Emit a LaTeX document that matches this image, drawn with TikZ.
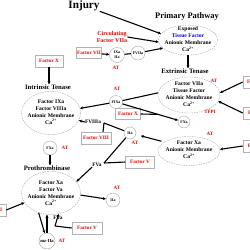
\documentclass[tikz,border=0pt]{standalone}
\usepackage{fontspec}
\setmainfont{Liberation Serif}
\usetikzlibrary{shapes.geometric,arrows.meta,calc}
\begin{document}
\begin{tikzpicture}[x=1pt,y=-1pt,
  every node/.style={font=\bfseries, inner sep=0pt},
  ell/.style={draw=gray!70, dash pattern=on 1.5pt off 1pt, line width=0.4pt, ellipse, inner sep=0pt},
  ring/.style={draw=gray!70, circle, line width=0.4pt, fill=white, inner sep=0pt, align=center, font=\bfseries\fontsize{4}{4.6}\selectfont},
  fbox/.style={draw=gray!60, fill=white, line width=0.5pt, text=red, font=\bfseries\fontsize{5.2}{6}\selectfont, minimum height=11pt},
  lbl/.style={font=\bfseries\fontsize{6.7}{8}\selectfont},
  etext/.style={align=center, font=\bfseries\fontsize{5.6}{7}\selectfont},
  redt/.style={text=red, font=\bfseries\fontsize{5}{6}\selectfont},
  con/.style={line width=1.1pt},
  arr/.style={con, -{Stealth[length=3pt,width=3pt]}},
]
\useasboundingbox (0,0) rectangle (250,250);
\clip (0,0) rectangle (250,250);
\fill[white] (0,0) rectangle (250,250);

% titles
\node[font=\bfseries\fontsize{11.2}{13}\selectfont] (injury) at (84,6) {Injury};
\node[font=\bfseries\fontsize{8.4}{10}\selectfont] (primary) at (187,16) {Primary Pathway};
\node[lbl] (ext) at (185,71) {Extrinsic Tenase};
\node[lbl] (intr) at (48,87) {Intrinsic Tenase};
\node[lbl] (proth) at (47,168) {Prothrombinase};

% ellipses
\node[ell, minimum width=59pt, minimum height=30pt] (e1) at (188,40) {};
\node[etext] at (188,39.5) {Exposed\\\textcolor{blue}{Tissue Factor}\\Anionic Membrane\\Ca\textsuperscript{2+}};
\node[ell, minimum width=62pt, minimum height=36pt] (e2) at (189,95) {};
\node[etext] at (189,94.5) {Factor VIIa\\Tissue Factor\\Anionic Membrane\\Ca\textsuperscript{2+}};
\node[ell, minimum width=62pt, minimum height=29pt] (e3) at (189,151) {};
\node[etext] at (189,150) {Factor Xa\\Anionic Membrane\\Ca\textsuperscript{2+}};
\node[ell, minimum width=59pt, minimum height=43pt] (e4) at (51,113) {};
\node[etext] at (51,112) {Factor IXa\\Factor VIIIa\\Anionic Membrane\\Ca\textsuperscript{2+}};
\node[ell, minimum width=59pt, minimum height=43pt] (e5) at (51,193) {};
\node[etext] at (51,193) {Factor Xa\\Factor Va\\Anionic Membrane\\Ca\textsuperscript{2+}};

% circles
\node[ring, minimum size=15pt] (c1) at (117,55) {IXa\\IIa};
\node[ring, minimum size=14pt] (c2) at (138,53) {FVIIa};
\node[ring, minimum size=13pt] (c3) at (116,102) {FIXa};
\node[ring, minimum size=12pt] (c4) at (130,133) {IIa};
\node[ring, minimum size=12pt] (c5) at (184,122) {FXa};
\node[ring, minimum size=14pt] (c6) at (50,148) {FXa};
\node[ring, minimum size=14pt] (c7) at (113,200) {IIa};
\node[ring, minimum size=16pt, font=\bfseries\fontsize{4.6}{5}\selectfont] (c8) at (47,241) {mz-IIa};

% boxes
\node[fbox, minimum width=25pt] (b1) at (89,53) {Factor VII};
\node[fbox, minimum width=28pt, minimum height=12pt] (b2) at (49,61) {Factor X};
\node[fbox, minimum width=25pt] (b3) at (128,114) {Factor X};
\node[fbox, minimum width=30pt, minimum height=12pt] (b4) at (96,138) {Factor VIII};
\node[fbox, minimum width=29pt, minimum height=12pt] (b5) at (140,162) {Factor V};
\node[fbox, minimum width=30pt, minimum height=12pt] (b6) at (87,228) {Factor V};
\node[fbox, minimum width=28pt, minimum height=12pt] (b7) at (-8,210) {Factor II};
\node[fbox, minimum width=30pt, minimum height=12pt] (r1) at (258,82) {Factor IX};
\node[fbox, minimum width=30pt, minimum height=12pt] (r2) at (258,113) {Factor X};
\node[fbox, minimum width=30pt, minimum height=12pt] (r3) at (258,146) {Factor II};

% red labels
\node[text=red, align=center, font=\bfseries\fontsize{6}{7.2}\selectfont] (circ) at (112,37) {Circulating\\Factor VIIa};
\node[redt] (at1) at (116,68) {AT};
\node[redt] (at2) at (214,81) {AT};
\node[redt] (at3) at (117,89) {AT};
\node[redt] (at4) at (135,143) {AT};
\node[redt] (at5) at (210,134) {AT};
\node[redt] (at6) at (65,148) {AT};
\node[redt] (at7) at (117,188) {AT};
\node[redt] (at8) at (62,241) {AT};
\node[redt] (tfpi) at (210,112) {TFPI};

% black small labels
\node[font=\bfseries\fontsize{5.3}{6}\selectfont] (fviii) at (93,122) {FVIIIa};
\node[font=\bfseries\fontsize{5.3}{6}\selectfont] (fva1) at (97,165) {FVa};
\node[font=\bfseries\fontsize{5.3}{6}\selectfont] (fva2) at (58,218) {FVa};

% junction coordinates
\coordinate (j1) at ($(c3)!0.62!(c5)$);
\coordinate (j2) at (104,123);
\coordinate (j3) at (104,163);
\coordinate (j4) at (55,226);

% connectors
\draw[arr] (injury.south east) -- (e1.167);
\draw[arr] (circ.east) -- (e1.184);
\draw[arr] (b1) -- (c1);
\draw[con] (c1) -- (c2);
\draw[arr] (c2) -- (e1.198);
\draw[arr] (e1.south) -- (e1.south |- ext.north);
\draw[arr] (b2.south) -- (b2.south |- intr.north);
\draw[con] (c3) -- (e2.176);
\draw[arr] (c3) -- (c5);
\draw[con] (b3.east) -- (j1);
\draw[arr] (c3) -- (e4.9);
\draw[arr] (r1.west) -- (e2.4);
\draw[arr] (r2.west) -- (e2.348);
\draw[arr] (r3.west) -- (e3.3);
\draw[arr, shorten <=3pt, shorten >=5pt] (e3.160) -- (c4);
\draw[arr] (fviii.west) -- (e4.345);
\draw[con] (j2) -- (c4);
\draw[con] ([xshift=7pt]b4.north) -- (j2);
\draw[con] (j3) -- (c4);
\draw[con] (b5.west) -- (j3);
\draw[arr] (fva1.south west) -- (e5.24);
\draw[arr] (c6.south) -- (c6.south |- proth.north);
\draw[arr] (e5.356) -- (c7);
\draw[arr] (b7.east) -- (e5.200);
\draw[arr] (e5.238) -- (c8);
\draw[arr] (c8.north) -- (c8.north |- e5.south);
\draw[con] (b6.west) -- (j4);
\draw[arr] (j4) -- (e5.290);
\end{tikzpicture}
\end{document}
